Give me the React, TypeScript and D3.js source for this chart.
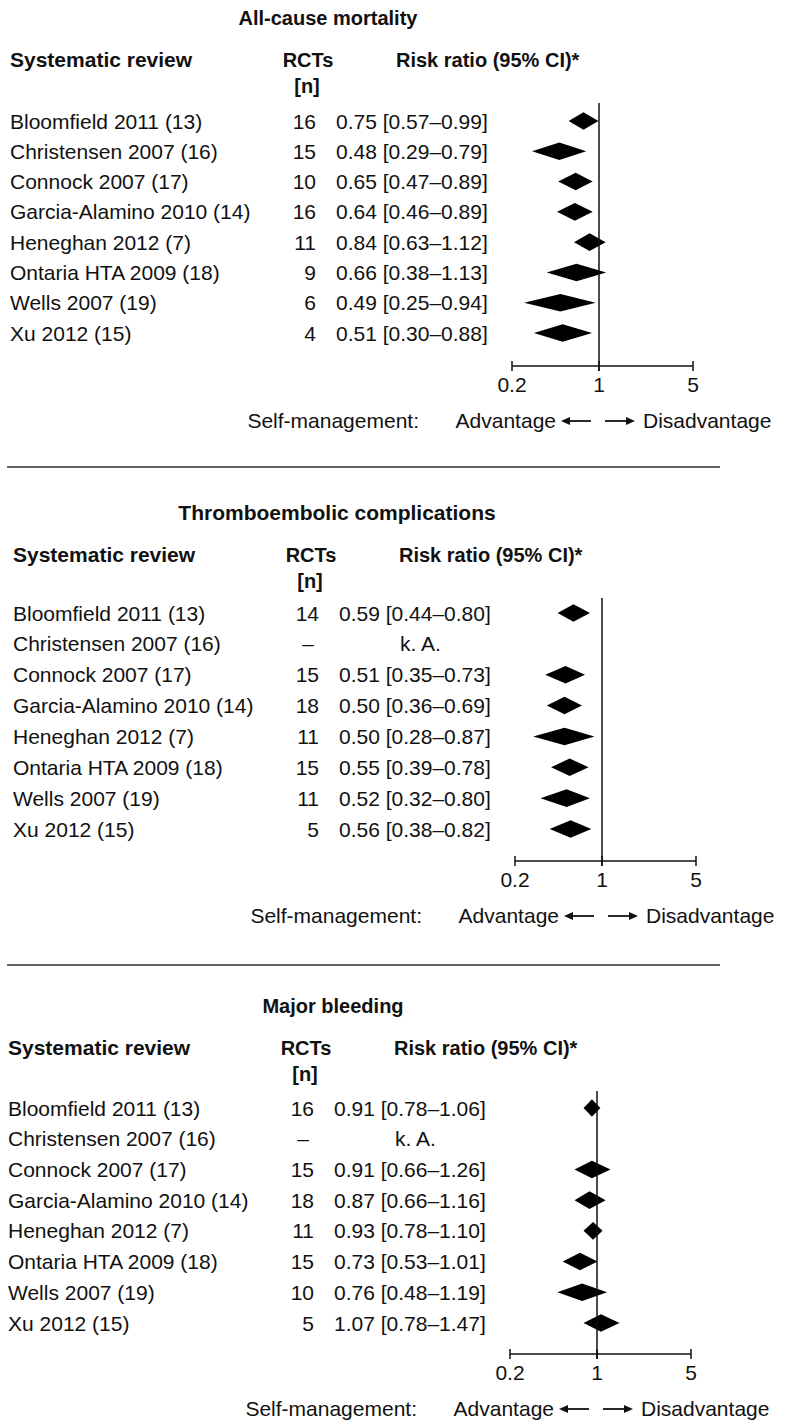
import React from 'react';
import * as d3 from 'd3';

// Review labels (same in all three panels)
const reviews = [
  'Bloomfield 2011 (13)',
  'Christensen 2007 (16)',
  'Connock 2007 (17)',
  'Garcia-Alamino 2010 (14)',
  'Heneghan 2012 (7)',
  'Ontaria HTA 2009 (18)',
  'Wells 2007 (19)',
  'Xu 2012 (15)',
];

// All-cause mortality
const mortalityN = [16, 15, 10, 16, 11, 9, 6, 4];
const mortalityRR = [0.75, 0.48, 0.65, 0.64, 0.84, 0.66, 0.49, 0.51];
const mortalityLo = [0.57, 0.29, 0.47, 0.46, 0.63, 0.38, 0.25, 0.30];
const mortalityHi = [0.99, 0.79, 0.89, 0.89, 1.12, 1.13, 0.94, 0.88];

// Thromboembolic complications (null = k. A.)
const thromboN = [14, null, 15, 18, 11, 15, 11, 5];
const thromboRR = [0.59, null, 0.51, 0.50, 0.50, 0.55, 0.52, 0.56];
const thromboLo = [0.44, null, 0.35, 0.36, 0.28, 0.39, 0.32, 0.38];
const thromboHi = [0.80, null, 0.73, 0.69, 0.87, 0.78, 0.80, 0.82];

// Major bleeding
const bleedingN = [16, null, 15, 18, 11, 15, 10, 5];
const bleedingRR = [0.91, null, 0.91, 0.87, 0.93, 0.73, 0.76, 1.07];
const bleedingLo = [0.78, null, 0.66, 0.66, 0.78, 0.53, 0.48, 0.78];
const bleedingHi = [1.06, null, 1.26, 1.16, 1.10, 1.01, 1.19, 1.47];

const tickValues = [0.2, 1, 5];
const tickLabels = ['0.2', '1', '5'];

const FONT = '"Liberation Sans", Arial, Helvetica, sans-serif';
const INK = '#111';
const fmt = d3.format('.2f');

type PanelProps = {
  title: string;
  n: (number | null)[];
  rr: (number | null)[];
  lo: (number | null)[];
  hi: (number | null)[];
  oy: number;       // vertical offset from the first panel
  dx: number;       // small horizontal shift of the panel
  titleX: number;
  titleSize: number;
  rowTop: number;
  rowBottom: number;
};

function Panel(props: PanelProps) {
  const { title, n, rr, lo, hi, oy, dx, titleX, titleSize, rowTop, rowBottom } = props;

  const x = d3.scaleLog().domain([0.2, 1, 5]).range([512 + dx, 599 + dx, 693 + dx]);
  const y = d3.scalePoint<string>().domain(reviews).range([rowTop, rowBottom]);

  const axisY = 366 + oy;
  const refTop = 103 + oy;
  const x1 = x(1);
  const advY = 428 + oy;
  const h = 8.8;

  return (
    <g>
      <text x={titleX} y={25 + oy} textAnchor="middle" fontWeight="bold" fontSize={titleSize}>{title}</text>

      <text x={10 + dx} y={67 + oy} fontWeight="bold" fontSize={21}>Systematic review</text>
      <text x={308 + dx} y={67 + oy} textAnchor="middle" fontWeight="bold" fontSize={20}>RCTs</text>
      <text x={307 + dx} y={93 + oy} textAnchor="middle" fontWeight="bold" fontSize={20}>[n]</text>
      <text x={396 + dx} y={67 + oy} fontWeight="bold" fontSize={20}>Risk ratio (95% CI)*</text>

      {reviews.map((r, i) => {
        const cy = y(r) as number;
        const by = cy + 7.5;
        const est = rr[i];
        return (
          <g key={r}>
            <text x={10 + dx} y={by} fontSize={21}>{r}</text>
            {n[i] == null ? (
              <text x={305 + dx} y={by} textAnchor="middle" fontSize={21}>–</text>
            ) : (
              <text x={316 + dx} y={by} textAnchor="end" fontSize={21}>{n[i]}</text>
            )}
            {est == null ? (
              <text x={397 + dx} y={by} fontSize={21}>k. A.</text>
            ) : (
              <>
                <text x={336 + dx} y={by} fontSize={21}>
                  {fmt(est) + ' [' + fmt(lo[i] as number) + '–' + fmt(hi[i] as number) + ']'}
                </text>
                <path
                  d={`M${x(lo[i] as number)},${cy}L${x(est)},${cy - h}L${x(hi[i] as number)},${cy}L${x(est)},${cy + h}Z`}
                  fill="#000"
                />
              </>
            )}
          </g>
        );
      })}

      {/* reference line at RR = 1 */}
      <line x1={x1} x2={x1} y1={refTop} y2={axisY + 5} stroke={INK} strokeWidth={1.5} />

      {/* axis */}
      <line x1={x(0.2)} x2={x(5)} y1={axisY} y2={axisY} stroke={INK} strokeWidth={1.5} />
      {tickValues.map((t, i) => (
        <g key={t}>
          <line x1={x(t)} x2={x(t)} y1={axisY - 5} y2={axisY + 5} stroke={INK} strokeWidth={1.5} />
          <text x={x(t)} y={axisY + 26} textAnchor="middle" fontSize={21}>{tickLabels[i]}</text>
        </g>
      ))}

      {/* direction legend */}
      <text x={x1 - 180} y={advY} textAnchor="end" fontSize={21}>Self-management:</text>
      <text x={x1 - 43} y={advY} textAnchor="end" fontSize={21}>Advantage</text>
      <line x1={x1 - 34} x2={x1 - 8} y1={advY - 7} y2={advY - 7} stroke={INK} strokeWidth={1.8} />
      <path d={`M${x1 - 38},${advY - 7}L${x1 - 29},${advY - 11}L${x1 - 29},${advY - 3}Z`} fill={INK} />
      <line x1={x1 + 6} x2={x1 + 32} y1={advY - 7} y2={advY - 7} stroke={INK} strokeWidth={1.8} />
      <path d={`M${x1 + 36},${advY - 7}L${x1 + 27},${advY - 11}L${x1 + 27},${advY - 3}Z`} fill={INK} />
      <text x={x1 + 44} y={advY} fontSize={21}>Disadvantage</text>
    </g>
  );
}

export default function App() {
  return (
    <svg
      width={789}
      height={1427}
      style={{ position: 'absolute', left: 0, top: 0, background: '#fff' }}
      fontFamily={FONT}
      fill={INK}
    >
      <rect width={789} height={1427} fill="#fff" />
      <Panel title="All-cause mortality" n={mortalityN} rr={mortalityRR} lo={mortalityLo} hi={mortalityHi}
        oy={0} dx={0} titleX={328} titleSize={20} rowTop={121} rowBottom={333} />
      <line x1={7} x2={720} y1={467} y2={467} stroke="#333" strokeWidth={1.5} />
      <Panel title="Thromboembolic complications" n={thromboN} rr={thromboRR} lo={thromboLo} hi={thromboHi}
        oy={495} dx={3} titleX={337} titleSize={21} rowTop={613} rowBottom={829} />
      <line x1={7} x2={720} y1={965} y2={965} stroke="#333" strokeWidth={1.5} />
      <Panel title="Major bleeding" n={bleedingN} rr={bleedingRR} lo={bleedingLo} hi={bleedingHi}
        oy={988} dx={-2} titleX={333} titleSize={20} rowTop={1108} rowBottom={1323} />
    </svg>
  );
}
